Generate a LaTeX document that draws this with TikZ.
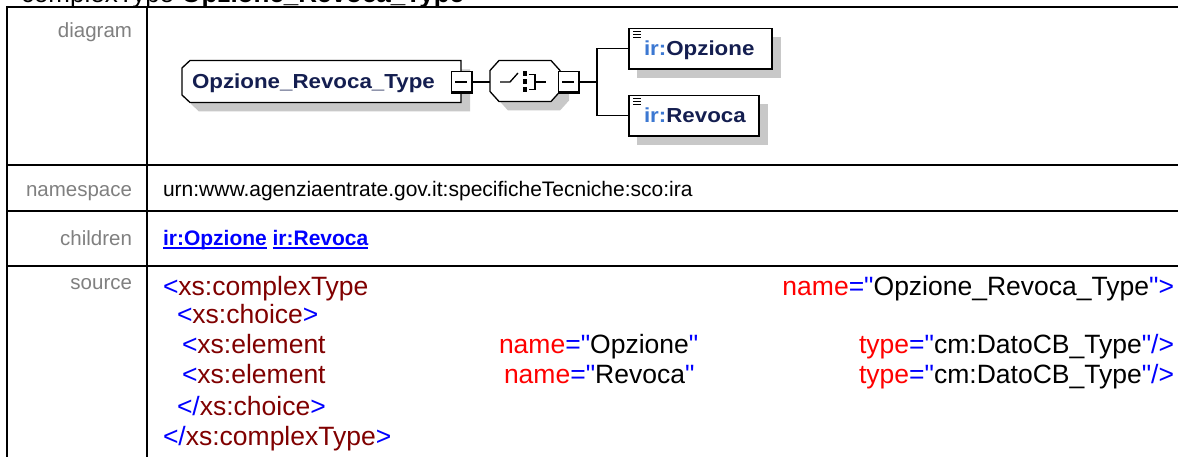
\documentclass[tikz,border=0pt]{standalone}
\usepackage{fontspec}
\setmainfont{Liberation Sans}
\newfontfamily\srcfont{Liberation Sans}
\newfontfamily\diagfont[FakeStretch=1.1]{Liberation Sans}
\usetikzlibrary{calc}
\definecolor{xblue}{RGB}{0,0,255}
\definecolor{xmaroon}{RGB}{128,0,0}
\definecolor{xred}{RGB}{255,0,0}
\definecolor{lblgray}{RGB}{128,128,128}
\definecolor{shadowgray}{RGB}{200,200,200}
\definecolor{namenavy}{RGB}{20,30,80}
\definecolor{prefixblue}{RGB}{60,120,210}
\newcommand\srcB[1]{\textcolor{xblue}{#1}}
\newcommand\srcM[1]{\textcolor{xmaroon}{#1}}
\newcommand\srcR[1]{\textcolor{xred}{#1}}
\begin{document}
\begin{tikzpicture}[x=1pt,y=-1pt,
  txt/.style={inner sep=0pt, outer sep=0pt, anchor=base west},
  lbl/.style={inner sep=0pt, outer sep=0pt, anchor=base east, text=lblgray, font=\fontsize{20.5}{24}\selectfont},
  src/.style={txt, font=\srcfont\fontsize{26.5}{30}\selectfont},
  gridline/.style={line width=2pt, black},
  shadowfill/.style={fill=shadowgray, draw=none},
  outline/.style={draw=black, line width=1.3pt, fill=white},
  conn/.style={draw=black, line width=1.3pt},
  elem/.style={draw=black, line width=1.8pt, fill=white, inner sep=0pt, outer sep=0pt, anchor=north west},
  dname/.style={txt, font=\diagfont\bfseries\fontsize{20.3}{24}\selectfont},
]
\useasboundingbox (0,0) rectangle (1178,457);
\clip (0,0) rectangle (1178,457);
\fill[white] (0,0) rectangle (1178,457);

% title (cut off at top, as in the reference)
\node[txt, font=\fontsize{26}{30}\selectfont] (title) at (21,2.5) {complexType \textbf{Opzione\_Revoca\_Type}};

% table grid
\draw[gridline] (6,7) -- (1190,7);
\draw[gridline] (7,165) -- (1190,165);
\draw[gridline] (7,211) -- (1190,211);
\draw[gridline] (7,266) -- (1190,266);
\draw[gridline] (7,6) -- (7,470);
\draw[gridline] (147,7) -- (147,470);

% row labels
\node[lbl] (ldiag) at (132,37.5) {diagram};
\node[lbl] (lns) at (132,197) {namespace};
\node[lbl] (lch) at (132,245) {children};
\node[lbl] (lsrc) at (132,289) {source};

% namespace
\node[txt, font=\fontsize{21}{24}\selectfont] (ns) at (163,197) {urn:www.agenziaentrate.gov.it:specificheTecniche:sco:ira};

% children links
\node[txt, font=\bfseries\fontsize{21}{24}\selectfont, text=xblue] (c1) at (163,245) {ir:Opzione};
\node[txt, font=\bfseries\fontsize{21}{24}\selectfont, text=xblue] (c2) at ([xshift=5.8pt]c1.base east) {ir:Revoca};
\draw[xblue, line width=1.8pt] ([yshift=-3pt]c1.base west) -- ([yshift=-3pt]c1.base east);
\draw[xblue, line width=1.8pt] ([yshift=-3pt]c2.base west) -- ([yshift=-3pt]c2.base east);

% source
\node[src] (s1a) at (163,295) {\srcB{<}\srcM{xs:complexType}};
\node[src, anchor=base east] (s1b) at (1174,295) {\srcR{name}\srcB{="}Opzione\_Revoca\_Type\srcB{">}};
\node[src] (s2) at (177,323) {\srcB{<}\srcM{xs:choice}\srcB{>}};
\node[src] (s3a) at (182,353) {\srcB{<}\srcM{xs:element}};
\node[src] (s3b) at (499,353) {\srcR{name}\srcB{="}Opzione\srcB{"}};
\node[src, anchor=base east] (s3c) at (1174,353) {\srcR{type}\srcB{="}cm:DatoCB\_Type\srcB{"/>}};
\node[src] (s4a) at (182,383) {\srcB{<}\srcM{xs:element}};
\node[src] (s4b) at (504,383) {\srcR{name}\srcB{="}Revoca\srcB{"}};
\node[src, anchor=base east] (s4c) at (1174,383) {\srcR{type}\srcB{="}cm:DatoCB\_Type\srcB{"/>}};
\node[src] (s5) at (177,415) {\srcB{</}\srcM{xs:choice}\srcB{>}};
\node[src] (s6) at (163,445) {\srcB{</}\srcM{xs:complexType}\srcB{>}};

% ---------- diagram ----------
% shadows
\fill[shadowfill, shift={(9,9)}] (190,60.5) -- (461,60.5) -- (461,102.5) -- (190,102.5) -- (182,95) -- (182,68) -- cycle;
\fill[shadowfill, shift={(9,9)}] (499,60.5) -- (551,60.5) -- (560,70.5) -- (560,91.5) -- (551,101.5) -- (499,101.5) -- (490,91.5) -- (490,70.5) -- cycle;
\fill[shadowfill] (637,37.5) rectangle (781,78);
\fill[shadowfill] (637,104.5) rectangle (768,145);

% main complexType box
\draw[outline] (190,60.5) -- (461,60.5) -- (461,102.5) -- (190,102.5) -- (182,95) -- (182,68) -- cycle;
\node[dname] (mainname) at (192,88.5) {\textcolor{namenavy}{Opzione\_Revoca\_Type}};

% choice compositor
\draw[outline] (499,60.5) -- (551,60.5) -- (560,70.5) -- (560,91.5) -- (551,101.5) -- (499,101.5) -- (490,91.5) -- (490,70.5) -- cycle;
\coordinate (choiceL) at (490,82);
\draw[line width=1.3pt] (500,82) -- (510,82) -- (518,73);
\fill (522.5,71.5) rectangle (527,76);
\fill (522.5,79.5) rectangle (527,84);
\fill (522.5,87.5) rectangle (527,92);
\draw[line width=1.3pt] (528.5,74.5) -- (535,74.5) -- (535,89.5) -- (528.5,89.5);
\draw[line width=1.3pt] (535,82) -- (546,82);

% expand buttons
\fill[black] (451,71) rectangle (473,94);
\fill[white] (452.3,72.3) rectangle (470.5,91.5);
\draw[line width=1.3pt] (455,82) -- (467,82);
\coordinate (btn1R) at (473,82);

\fill[black] (558,71) rectangle (580,94);
\fill[white] (559.3,72.3) rectangle (577.5,91.5);
\draw[line width=1.3pt] (562,82) -- (574,82);
\coordinate (btn2R) at (580,82);

% child elements
\node[elem, minimum width=143pt, minimum height=40.5pt] (opz) at (629,28.5) {};
\node[elem, minimum width=130pt, minimum height=40.5pt] (rev) at (629,95.5) {};
\foreach \b in {opz,rev}{
  \draw[line width=1pt] ([shift={(4,3.5)}]\b.north west) -- ++(8,0)
                        ([shift={(4,6.2)}]\b.north west) -- ++(8,0)
                        ([shift={(4,8.9)}]\b.north west) -- ++(8,0);
}
\node[dname] (opzt) at (644,56) {\textcolor{prefixblue}{ir:}\textcolor{namenavy}{Opzione}};
\node[dname] (revt) at (644,123) {\textcolor{prefixblue}{ir:}\textcolor{namenavy}{Revoca}};

% connectors
\coordinate (branch) at (597,82);
\draw[conn] (btn1R) -- (choiceL);
\draw[conn] (btn2R) -- (branch);
\draw[conn] (opz.west) -| (branch) |- (rev.west);
\end{tikzpicture}
\end{document}
